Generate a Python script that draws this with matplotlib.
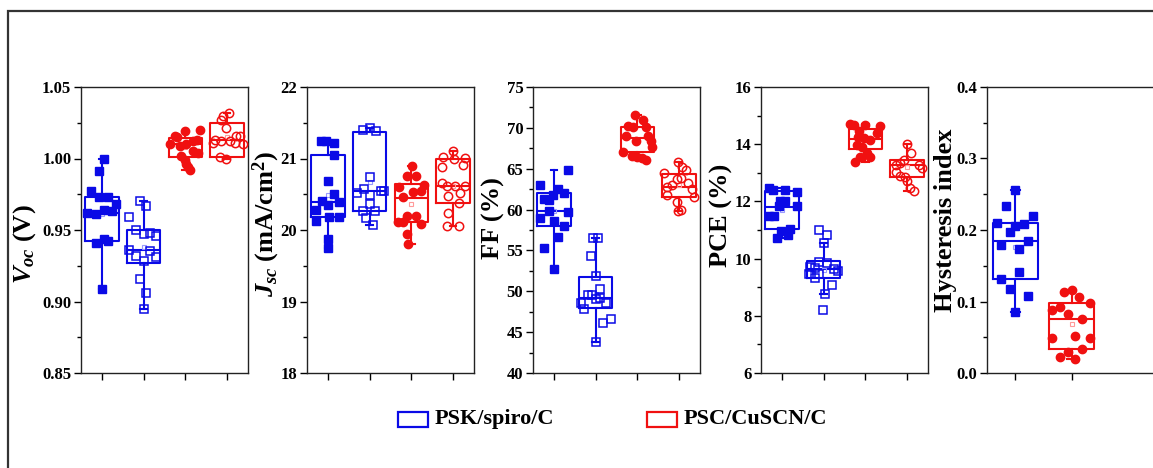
import matplotlib.pyplot as plt
from matplotlib.patches import Rectangle
from matplotlib.ticker import MultipleLocator, FormatStrFormatter

plt.rcParams['font.family'] = 'Liberation Serif'
plt.rcParams['font.weight'] = 'bold'
plt.rcParams['mathtext.fontset'] = 'custom'
plt.rcParams['mathtext.rm'] = 'Liberation Serif:bold'
plt.rcParams['mathtext.it'] = 'Liberation Serif:italic:bold'
plt.rcParams['mathtext.bf'] = 'Liberation Serif:bold'

BLUE = '#0a0ae6'
RED = '#f01010'
LBLUE = '#9a9aff'
LRED = '#ff9a9a'

legend_labels = ['PSK/spiro/C', 'PSC/CuSCN/C']

# ---- Voc (V) ----
voc_vals = [
    [1.000, 0.991, 0.977, 0.973, 0.973, 0.968, 0.962, 0.961, 0.964, 0.963, 0.944, 0.941, 0.942, 0.909],
    [0.970, 0.967, 0.959, 0.950, 0.947, 0.948, 0.946, 0.936, 0.932, 0.935, 0.931, 0.928, 0.916, 0.906, 0.895],
    [1.019, 1.020, 1.016, 1.015, 1.010, 1.009, 1.010, 1.012, 1.013, 1.005, 1.004, 1.002, 0.999, 0.996, 0.994, 0.992],
    [1.030, 1.032, 1.027, 1.021, 1.013, 1.012, 1.012, 1.016, 1.016, 1.011, 1.010, 1.011, 1.001, 1.000],
]
voc_dx = [
    [0.04, -0.07, -0.26, -0.06, 0.14, 0.33, -0.36, -0.15, 0.05, 0.25, 0.04, -0.15, 0.14, 0.0],
    [-0.08, 0.06, -0.34, -0.18, 0.0, 0.16, 0.30, -0.34, -0.18, 0.16, 0.30, 0.0, -0.08, 0.06, 0.0],
    [0.0, 0.34, -0.26, -0.20, -0.38, -0.14, 0.02, 0.18, 0.28, 0.18, 0.30, -0.10, -0.02, 0.02, 0.06, 0.10],
    [-0.10, 0.05, -0.14, -0.02, -0.30, -0.15, 0.06, 0.22, 0.30, 0.18, 0.37, -0.34, -0.18, -0.02],
]
# q1, median, q3, whisker low, whisker high, mean
voc_box = [
    (0.942, 0.962, 0.973, 0.909, 1.000, 0.961),
    (0.927, 0.936, 0.950, 0.895, 0.970, 0.938),
    (1.001, 1.010, 1.014, 0.992, 1.019, 1.008),
    (1.001, 1.013, 1.025, 1.000, 1.032, 1.015),
]

# ---- Jsc (mA/cm2) ----
jsc_vals = [
    [21.25, 21.24, 21.22, 21.05, 20.69, 20.51, 20.41, 20.35, 20.39, 20.28, 20.12, 20.18, 20.18, 19.87, 19.75],
    [21.40, 21.42, 21.38, 20.74, 20.58, 20.52, 20.55, 20.54, 20.49, 20.36, 20.26, 20.26, 20.17, 20.07],
    [20.90, 20.76, 20.76, 20.60, 20.63, 20.46, 20.53, 20.55, 20.20, 20.20, 20.11, 20.11, 20.09, 19.95, 19.81],
    [21.11, 21.02, 21.01, 21.00, 20.88, 20.91, 20.66, 20.61, 20.61, 20.61, 20.48, 20.52, 20.38, 20.24, 20.06, 20.05],
]
jsc_dx = [
    [-0.16, -0.04, 0.14, 0.14, 0.0, 0.14, -0.14, 0.0, 0.26, -0.28, -0.28, 0.02, 0.26, 0.0, 0.0],
    [-0.16, 0.02, 0.16, 0.02, -0.14, -0.30, 0.28, 0.34, 0.0, 0.0, -0.16, 0.14, -0.08, 0.08],
    [0.02, -0.10, 0.12, -0.30, 0.30, -0.20, 0.04, 0.22, -0.10, 0.12, -0.32, -0.20, 0.22, -0.10, -0.08],
    [0.0, -0.24, 0.28, 0.02, -0.26, 0.24, -0.26, -0.14, 0.04, 0.28, -0.12, 0.16, 0.14, -0.12, -0.14, 0.14],
]
jsc_box = [
    (20.18, 20.39, 21.05, 19.75, 21.25, 20.49),
    (20.26, 20.54, 21.37, 20.07, 21.42, 20.67),
    (20.11, 20.45, 20.64, 19.81, 20.90, 20.37),
    (20.38, 20.62, 20.99, 20.05, 21.11, 20.62),
]

# ---- FF (%) ----
ff_vals = [
    [64.9, 63.0, 61.3, 61.2, 62.5, 62.0, 61.8, 59.0, 59.8, 59.7, 58.6, 58.0, 56.7, 55.3, 52.7],
    [56.5, 56.5, 54.3, 51.9, 50.3, 49.5, 49.5, 49.0, 49.2, 48.6, 48.6, 47.8, 46.1, 46.6, 43.8],
    [71.6, 71.0, 70.2, 70.1, 70.1, 69.0, 68.4, 69.0, 68.4, 67.0, 66.6, 66.4, 66.3, 66.1, 67.7],
    [65.8, 65.2, 64.9, 64.5, 62.8, 63.0, 63.7, 63.9, 63.2, 62.5, 61.8, 61.5, 60.9, 59.8, 59.9],
]
ff_dx = [
    [0.34, -0.34, -0.24, -0.12, 0.10, 0.24, -0.02, -0.34, -0.12, 0.34, 0.0, 0.24, 0.10, -0.24, 0.0],
    [-0.06, 0.06, -0.10, 0.0, 0.10, -0.19, -0.08, 0.0, 0.10, 0.26, -0.34, -0.27, 0.18, 0.36, 0.0],
    [-0.06, 0.14, -0.22, -0.10, 0.20, -0.28, -0.04, 0.26, 0.32, -0.34, -0.14, -0.02, 0.10, 0.20, 0.36],
    [-0.02, 0.08, 0.16, -0.36, -0.28, -0.18, -0.06, 0.04, 0.22, 0.32, -0.28, 0.36, -0.04, -0.02, 0.04],
]
ff_box = [
    (58.0, 59.8, 62.0, 52.7, 64.9, 59.8),
    (47.9, 49.2, 51.8, 43.8, 56.5, 49.7),
    (67.0, 68.8, 70.1, 66.1, 71.6, 68.5),
    (61.5, 62.8, 64.4, 59.8, 65.8, 63.0),
]

# ---- PCE (%) ----
pce_vals = [
    [12.46, 12.41, 12.41, 12.32, 12.00, 12.00, 11.85, 11.83, 11.50, 11.48, 10.95, 11.03, 10.72, 10.84],
    [10.99, 10.83, 10.55, 9.87, 9.85, 9.65, 9.70, 9.67, 9.47, 9.47, 9.32, 9.55, 9.09, 8.76, 8.21],
    [14.72, 14.68, 14.68, 14.65, 14.47, 14.39, 14.25, 14.22, 14.16, 13.98, 13.90, 13.69, 13.55, 13.55, 13.37],
    [14.02, 13.69, 13.46, 13.28, 13.34, 13.28, 13.17, 13.02, 12.90, 12.85, 12.70, 12.47, 12.35],
]
pce_dx = [
    [-0.32, -0.22, 0.08, 0.36, -0.04, 0.08, -0.08, 0.36, -0.32, -0.20, -0.02, 0.20, -0.12, 0.14],
    [-0.10, 0.08, 0.0, -0.10, 0.08, 0.24, -0.32, -0.20, -0.36, -0.12, -0.20, 0.34, 0.20, 0.04, -0.02],
    [-0.36, -0.28, 0.0, 0.36, -0.16, 0.28, -0.18, -0.04, 0.12, -0.20, -0.08, 0.04, 0.10, -0.12, -0.26],
    [0.0, 0.10, -0.08, -0.26, -0.16, 0.28, 0.36, -0.26, -0.16, -0.06, 0.0, 0.06, 0.16],
]
pce_box = [
    (11.03, 11.80, 12.35, 10.72, 12.46, 11.70),
    (9.32, 9.64, 9.90, 8.76, 10.55, 9.60),
    (13.84, 14.18, 14.53, 13.37, 14.72, 14.20),
    (12.85, 13.28, 13.44, 12.35, 14.02, 13.20),
]

# ---- Hysteresis index ----
hi_vals = [
    [0.256, 0.234, 0.219, 0.210, 0.209, 0.206, 0.197, 0.179, 0.184, 0.173, 0.141, 0.131, 0.117, 0.107, 0.085],
    [0.113, 0.116, 0.106, 0.092, 0.098, 0.088, 0.083, 0.075, 0.049, 0.052, 0.049, 0.030, 0.033, 0.023, 0.019],
]
hi_dx = [
    [0.0, -0.17, 0.31, -0.33, 0.15, -0.01, -0.09, -0.25, 0.23, 0.06, 0.07, -0.25, -0.09, 0.23, 0.0],
    [-0.13, 0.0, 0.13, -0.21, 0.33, -0.34, -0.07, 0.19, -0.34, 0.06, 0.33, -0.07, 0.19, -0.21, 0.06],
]
hi_box = [
    (0.131, 0.184, 0.210, 0.085, 0.256, 0.176),
    (0.033, 0.075, 0.098, 0.019, 0.116, 0.068),
]

# style of each group: (color, light color, marker, filled)
four_styles = [(BLUE, LBLUE, 's', True), (BLUE, LBLUE, 's', False),
               (RED, LRED, 'o', True), (RED, LRED, 'o', False)]
two_styles = [(BLUE, LBLUE, 's', True), (RED, LRED, 'o', True)]

W, H = 1153, 468
fig = plt.figure(figsize=(W / 100, H / 100), dpi=100)

# outer frame of the original figure (cropped at right and bottom)
fig.patches.append(Rectangle((8 / W, -0.2), 1.3, 1.2 - 11 / H, transform=fig.transFigure,
                             fill=False, lw=1.6, edgecolor='#333333'))

panels = [
    (voc_vals, voc_dx, voc_box, four_styles, (0.85, 1.05), 0.05, 0.025, '%.2f',
     r'$V_{oc}$ (V)', (-0.26, 0.45)),
    (jsc_vals, jsc_dx, jsc_box, four_styles, (18, 22), 1, 0.5, '%d',
     r'$J_{sc}$ (mA/cm$^{2}$)', (-0.15, 0.52)),
    (ff_vals, ff_dx, ff_box, four_styles, (40, 75), 5, 2.5, '%d',
     'FF (%)', (-0.17, 0.54)),
    (pce_vals, pce_dx, pce_box, four_styles, (6, 16), 2, 1, '%d',
     'PCE (%)', (-0.17, 0.55)),
    (hi_vals, hi_dx, hi_box, two_styles, (0.0, 0.4), 0.1, 0.05, '%.1f',
     'Hysteresis index', (-0.18, 0.535)),
]
lefts = [81, 307, 533, 761, 987]
widths = [167, 167, 167, 167, 169]   # last panel runs past the cropped right edge
ax_bottom, ax_top = 373, 87

for left, ax_w, (vals, dx, box, styles, ylim, major, minor, fmt, label, lab_xy) in zip(lefts, widths, panels):
    ax = fig.add_axes([left / W, 1 - ax_bottom / H, ax_w / W, (ax_bottom - ax_top) / H])
    n = len(vals)
    for i in range(n):
        c, lc, m, filled = styles[i]
        q1, med, q3, lo, hi, mean = box[i]
        stat = dict(q1=q1, med=med, q3=q3, whislo=lo, whishi=hi, mean=mean, fliers=[])
        ax.bxp([stat], positions=[i + 1], widths=0.8, showmeans=True, showfliers=False,
               capwidths=[0.16], manage_ticks=False,
               boxprops=dict(color=c, lw=1.5), whiskerprops=dict(color=c, lw=1.5),
               capprops=dict(color=c, lw=1.5), medianprops=dict(color=c, lw=1.5),
               meanprops=dict(marker='s', markerfacecolor='none', markeredgecolor=lc,
                              markersize=3.2, markeredgewidth=0.8))
        xs = [i + 1 + d for d in dx[i]]
        size = 5.2 if m == 's' else 6.0
        if filled:
            ax.plot(xs, vals[i], linestyle='none', marker=m, markersize=size,
                    color=c, markeredgecolor=c, zorder=4)
        else:
            ax.plot(xs, vals[i], linestyle='none', marker=m, markersize=size,
                    markerfacecolor='none', markeredgecolor=c, markeredgewidth=1.1, zorder=4)
    ax.set_xlim(0.5, 4.5 if n == 4 else 3.5)
    ax.set_xticks(range(1, n + 1))
    ax.set_xticklabels([])
    ax.set_ylim(*ylim)
    ax.yaxis.set_major_locator(MultipleLocator(major))
    ax.yaxis.set_minor_locator(MultipleLocator(minor))
    ax.yaxis.set_major_formatter(FormatStrFormatter(fmt))
    ax.tick_params(axis='y', which='major', direction='out', length=5, width=1,
                   labelsize=12, pad=2)
    ax.tick_params(axis='y', which='minor', direction='out', length=3, width=1)
    ax.tick_params(axis='x', which='major', direction='out', length=5, width=1)
    ax.tick_params(axis='x', which='minor', bottom=False)
    for lab in ax.get_yticklabels():
        lab.set_fontweight('bold')
    for sp in ax.spines.values():
        sp.set_linewidth(1.0)
        sp.set_color('#222222')
    ax.set_ylabel(label, fontsize=19, fontweight='bold')
    ax.yaxis.set_label_coords(*lab_xy)

# legend drawn as figure boxes
legend_boxes = [(398, BLUE), (647, RED)]
for (x0, c), text in zip(legend_boxes, legend_labels):
    fig.patches.append(Rectangle((x0 / W, 1 - 427 / H), 30 / W, 15 / H, transform=fig.transFigure,
                                 fill=False, lw=1.6, edgecolor=c))
    fig.text((x0 + 37) / W, 1 - 419 / H, text, fontsize=16, fontweight='bold',
             ha='left', va='center')

fig.savefig('out.png', dpi=100)
